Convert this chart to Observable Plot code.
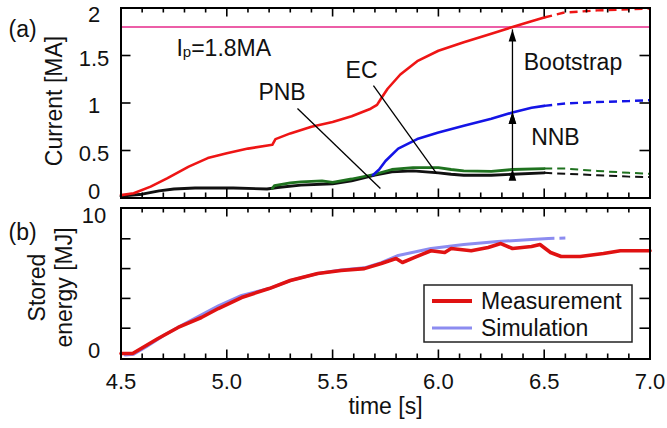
<!DOCTYPE html>
<html>
<head>
<meta charset="utf-8">
<script src="https://cdn.jsdelivr.net/npm/d3@7"></script>
<script src="https://cdn.jsdelivr.net/npm/@observablehq/plot@0.6"></script>
<style>
  body { margin: 0; background: #fff; }
  #chart { position: relative; width: 667px; height: 428px; }
  #chart > svg { position: absolute; left: 0; }
</style>
</head>
<body>
<div id="chart"></div>
<script>
const FONT = '"Liberation Sans", Arial, Helvetica, sans-serif';

// ---- Panel (a): current components [MA] vs time [s] ----
const plasmaCurrent = 1.8;

const totalCurrent = [
  [4.50,0.03],[4.56,0.05],[4.64,0.12],[4.72,0.21],[4.82,0.33],[4.91,0.42],[5.00,0.47],
  [5.10,0.52],[5.20,0.555],[5.215,0.56],[5.23,0.62],[5.30,0.68],[5.40,0.75],[5.50,0.80],
  [5.59,0.86],[5.68,0.94],[5.71,0.98],[5.73,1.05],[5.76,1.15],[5.82,1.30],[5.90,1.44],
  [6.00,1.55],[6.12,1.64],[6.25,1.73],[6.35,1.80],[6.44,1.86],[6.50,1.90]
];
const totalCurrentExt = [[6.50,1.90],[6.59,1.95],[6.75,1.975],[6.90,1.985],[7.00,1.995]];

const nnbCurrent = [
  [5.69,0.24],[5.72,0.30],[5.75,0.39],[5.81,0.52],[5.90,0.62],[6.00,0.69],[6.12,0.76],
  [6.25,0.835],[6.35,0.90],[6.44,0.95],[6.50,0.97]
];
const nnbCurrentExt = [[6.50,0.97],[6.60,0.995],[6.75,1.01],[6.90,1.02],[7.00,1.03]];

const pnbCurrent = [
  [5.215,0.10],[5.225,0.13],[5.30,0.16],[5.35,0.17],[5.45,0.18],[5.50,0.165],[5.59,0.20],
  [5.70,0.25],[5.78,0.30],[5.88,0.32],[6.00,0.32],[6.06,0.30],[6.12,0.285],[6.25,0.28],
  [6.35,0.30],[6.50,0.31]
];
const pnbCurrentExt = [[6.50,0.31],[6.60,0.31],[6.75,0.285],[6.90,0.265],[7.00,0.255]];

const ecCurrent = [
  [4.50,0.02],[4.60,0.04],[4.68,0.075],[4.75,0.095],[4.85,0.105],[5.03,0.105],[5.19,0.095],
  [5.24,0.11],[5.35,0.135],[5.50,0.15],[5.59,0.18],[5.70,0.24],[5.78,0.275],[5.88,0.285],
  [6.00,0.265],[6.06,0.25],[6.12,0.24],[6.25,0.24],[6.35,0.25],[6.50,0.265]
];
const ecCurrentExt = [[6.50,0.265],[6.60,0.255],[6.75,0.24],[6.90,0.225],[7.00,0.22]];

// annotation text and leader lines for panel (a)
const labelsA = [
  {text: "PNB", t: 5.261, v: 1.105},
  {text: "EC", t: 5.637, v: 1.342},
  {text: "Bootstrap", t: 6.636, v: 1.426},
  {text: "NNB", t: 6.553, v: 0.637}
];
const ipLabel = {text: "Ip=1.8MA", t: 4.762, v: 1.575};
const leaders = [
  {t1: 5.334, v1: 0.942, t2: 5.726, v2: 0.10},
  {t1: 5.693, v1: 1.184, t2: 5.991, v2: 0.258}
];
const spans = [
  {t: 6.35, v1: 0.905, v2: 1.775},
  {t: 6.35, v1: 0.307, v2: 0.905}
];

// ---- Panel (b): stored energy [MJ] ----
const measuredEnergy = [
  [4.50,0.3],[4.555,0.3],[4.595,0.64],[4.675,1.31],[4.77,2.05],[4.88,2.72],[4.96,3.32],
  [5.07,4.06],[5.20,4.66],[5.30,5.2],[5.43,5.67],[5.54,5.87],[5.65,6.0],[5.73,6.34],
  [5.80,6.68],[5.83,6.41],[5.885,6.74],[5.965,7.2],[6.03,7.08],[6.06,7.35],[6.155,7.2],
  [6.235,7.42],[6.295,7.68],[6.35,7.35],[6.44,7.48],[6.48,7.62],[6.53,7.08],[6.58,6.81],
  [6.67,6.81],[6.78,7.01],[6.86,7.2],[7.00,7.2]
];
const simulatedEnergy = [
  [4.52,0.2],[4.56,0.25],[4.62,0.75],[4.70,1.5],[4.80,2.3],[4.96,3.5],[5.07,4.2],[5.20,4.66],
  [5.30,5.2],[5.43,5.67],[5.54,5.9],[5.65,6.05],[5.73,6.4],[5.81,6.88],[5.965,7.35],
  [6.12,7.62],[6.28,7.82],[6.44,7.95],[6.52,8.02]
];
const simulatedEnergyExt = [[6.52,8.02],[6.60,8.05]];

const legendItems = [
  {label: "Measurement", color: "#e01212", width: 4},
  {label: "Simulation", color: "#8c8cf0", width: 3}
];

// tick values
const timeMajor = [4.5, 5.0, 5.5, 6.0, 6.5, 7.0];
const timeMajorInner = [5.0, 5.5, 6.0, 6.5];
const timeMinor = [4.6,4.7,4.8,4.9,5.1,5.2,5.3,5.4,5.6,5.7,5.8,5.9,6.1,6.2,6.3,6.4,6.6,6.7,6.8,6.9];
const currentTicks = [0.5, 1, 1.5];
const energyTicks = [2, 4, 6, 8];

const W = 667, ML = 120.5, MR = 17.5;
const FW = W - ML - MR;

// inward tick marks on all four sides of a frame
function frameTicks(fh, yTicks) {
  const tk = {stroke: "black", strokeWidth: 1.6};
  return [
    Plot.ruleX(timeMinor, {x: d => d, insetTop: fh - 5, ...tk}),
    Plot.ruleX(timeMinor, {x: d => d, insetBottom: fh - 5, ...tk}),
    Plot.ruleX(timeMajorInner, {x: d => d, insetTop: fh - 9, ...tk}),
    Plot.ruleX(timeMajorInner, {x: d => d, insetBottom: fh - 9, ...tk}),
    Plot.ruleY(yTicks, {y: d => d, insetRight: FW - 10, ...tk}),
    Plot.ruleY(yTicks, {y: d => d, insetLeft: FW - 10, ...tk})
  ];
}

const px = d => d[0], py = d => d[1];
const solid = (data, stroke, w) => Plot.line(data, {x: px, y: py, stroke, strokeWidth: w});
const dashed = (data, stroke, w) => Plot.line(data, {x: px, y: py, stroke, strokeWidth: w, strokeDasharray: "8,5", strokeLinecap: "butt"});
const yLabels = (values, dy) => Plot.axisY(values, {tickSize: 0, tickPadding: 27, textAnchor: "middle", dy, fontSize: 22, tickFormat: d => String(d)});

const RED = "#ee1515", BLUE = "#1414e6", GREEN = "#1f721f", BLACK = "#111";

const plotA = Plot.plot({
  width: W, height: 200,
  marginLeft: ML, marginRight: MR, marginTop: 7.5, marginBottom: 2.5,
  style: {fontFamily: FONT, fontSize: "22px", color: "#111", background: "transparent", overflow: "visible"},
  x: {domain: [4.5, 7], axis: null},
  y: {domain: [0, 2]},
  marks: [
    Plot.ruleY([plasmaCurrent], {stroke: "#e6288a", strokeWidth: 1.5}),
    solid(ecCurrent, BLACK, 2.9), dashed(ecCurrentExt, BLACK, 2),
    solid(pnbCurrent, GREEN, 2.8), dashed(pnbCurrentExt, GREEN, 2),
    solid(nnbCurrent, BLUE, 2.6), dashed(nnbCurrentExt, BLUE, 2.4),
    solid(totalCurrent, RED, 2.6), dashed(totalCurrentExt, RED, 2.4),
    Plot.link(leaders, {x1: "t1", y1: "v1", x2: "t2", y2: "v2", stroke: "black", strokeWidth: 1.3}),
    Plot.link(spans, {x1: "t", y1: "v1", x2: "t", y2: "v2", stroke: "black", strokeWidth: 1.3, markerStart: "arrow", markerEnd: "arrow"}),
    Plot.text(labelsA, {x: "t", y: "v", text: "text", fontSize: 23, fill: "#111"}),
    Plot.text([ipLabel], {x: "t", y: "v", text: "text", fontSize: 23, textAnchor: "start", fill: "#111"}),
    Plot.text(["(a)"], {frameAnchor: "top-left", text: d => d, dx: -112.5, dy: 21.5, lineAnchor: "middle", textAnchor: "start", fontSize: 23}),
    Plot.text(["Current [MA]"], {frameAnchor: "left", text: d => d, dx: -66, dy: -2, rotate: -90, lineAnchor: "middle", textAnchor: "middle", fontSize: 23}),
    ...frameTicks(190, currentTicks),
    Plot.frame({stroke: "black", strokeWidth: 2}),
    yLabels([2], 7),
    yLabels(currentTicks, 3),
    yLabels([0], -6)
  ]
});

const plotB = Plot.plot({
  width: W, height: 228,
  marginLeft: ML, marginRight: MR, marginTop: 7.5, marginBottom: 69.5,
  style: {fontFamily: FONT, fontSize: "22px", color: "#111", background: "transparent", overflow: "visible"},
  x: {domain: [4.5, 7]},
  y: {domain: [-0.067, 10.067]},
  marks: [
    solid(simulatedEnergy, "#8c8cf0", 3),
    Plot.line(simulatedEnergyExt, {x: px, y: py, stroke: "#8c8cf0", strokeWidth: 3, strokeDasharray: "6,5", strokeLinecap: "butt"}),
    solid(measuredEnergy, "#e01212", 3.6),
    Plot.text(["(b)"], {frameAnchor: "top-left", text: d => d, dx: -112.5, dy: 24.5, lineAnchor: "middle", textAnchor: "start", fontSize: 23}),
    Plot.text(["Stored\nenergy [MJ]"], {frameAnchor: "left", text: d => d, dx: -71, dy: 4, rotate: -90, lineAnchor: "middle", textAnchor: "middle", lineHeight: 1.17, fontSize: 23}),
    Plot.text(["time [s]"], {frameAnchor: "bottom", text: d => d, dy: 48, lineAnchor: "middle", fontSize: 23}),
    ...frameTicks(151, energyTicks),
    Plot.frame({stroke: "black", strokeWidth: 2}),
    yLabels([10], 7),
    yLabels([0], -7),
    Plot.axisX(timeMajor, {tickSize: 0, tickPadding: 14, tickFormat: d => d.toFixed(1), fontSize: 22})
  ]
});

// subscript p in the plasma current label
d3.select(plotA).selectAll("text")
  .filter(function () { return this.textContent === ipLabel.text; })
  .each(function () {
    const el = d3.select(this).text(null);
    el.append("tspan").text("I");
    el.append("tspan").attr("font-size", 15).attr("dy", 1).text("p");
    el.append("tspan").attr("dy", -1).text("=1.8MA");
  });

// solid triangular arrowheads for the double arrows
plotA.querySelectorAll("marker").forEach(m => {
  m.setAttribute("viewBox", "-13 -5 14 10");
  m.setAttribute("markerUnits", "userSpaceOnUse");
  m.setAttribute("markerWidth", 14);
  m.setAttribute("markerHeight", 10);
  m.setAttribute("fill", "black");
  m.setAttribute("stroke", "none");
  m.innerHTML = '<path d="M-12,-3.8L0,0L-12,3.8Z"></path>';
});

const chart = document.getElementById("chart");
plotA.style.top = "0px";
plotB.style.top = "200px";
chart.append(plotA, plotB);

// legend box
const legend = d3.select(chart).append("svg")
  .attr("width", 210).attr("height", 59)
  .style("left", "423px").style("top", "284px")
  .style("font-family", FONT);
legend.append("rect").attr("x", 1).attr("y", 1).attr("width", 208).attr("height", 57)
  .attr("fill", "white").attr("stroke", "#222").attr("stroke-width", 1.5);
const rows = legend.selectAll("g.item").data(legendItems).join("g")
  .attr("transform", (d, i) => `translate(0, ${17 + i * 27})`);
rows.append("line").attr("x1", 9).attr("x2", 49)
  .attr("stroke", d => d.color).attr("stroke-width", d => d.width);
rows.append("text").attr("x", 58).attr("y", 0).attr("dy", "0.35em")
  .attr("font-size", 23).attr("fill", "#111").text(d => d.label);
</script>
</body>
</html>
